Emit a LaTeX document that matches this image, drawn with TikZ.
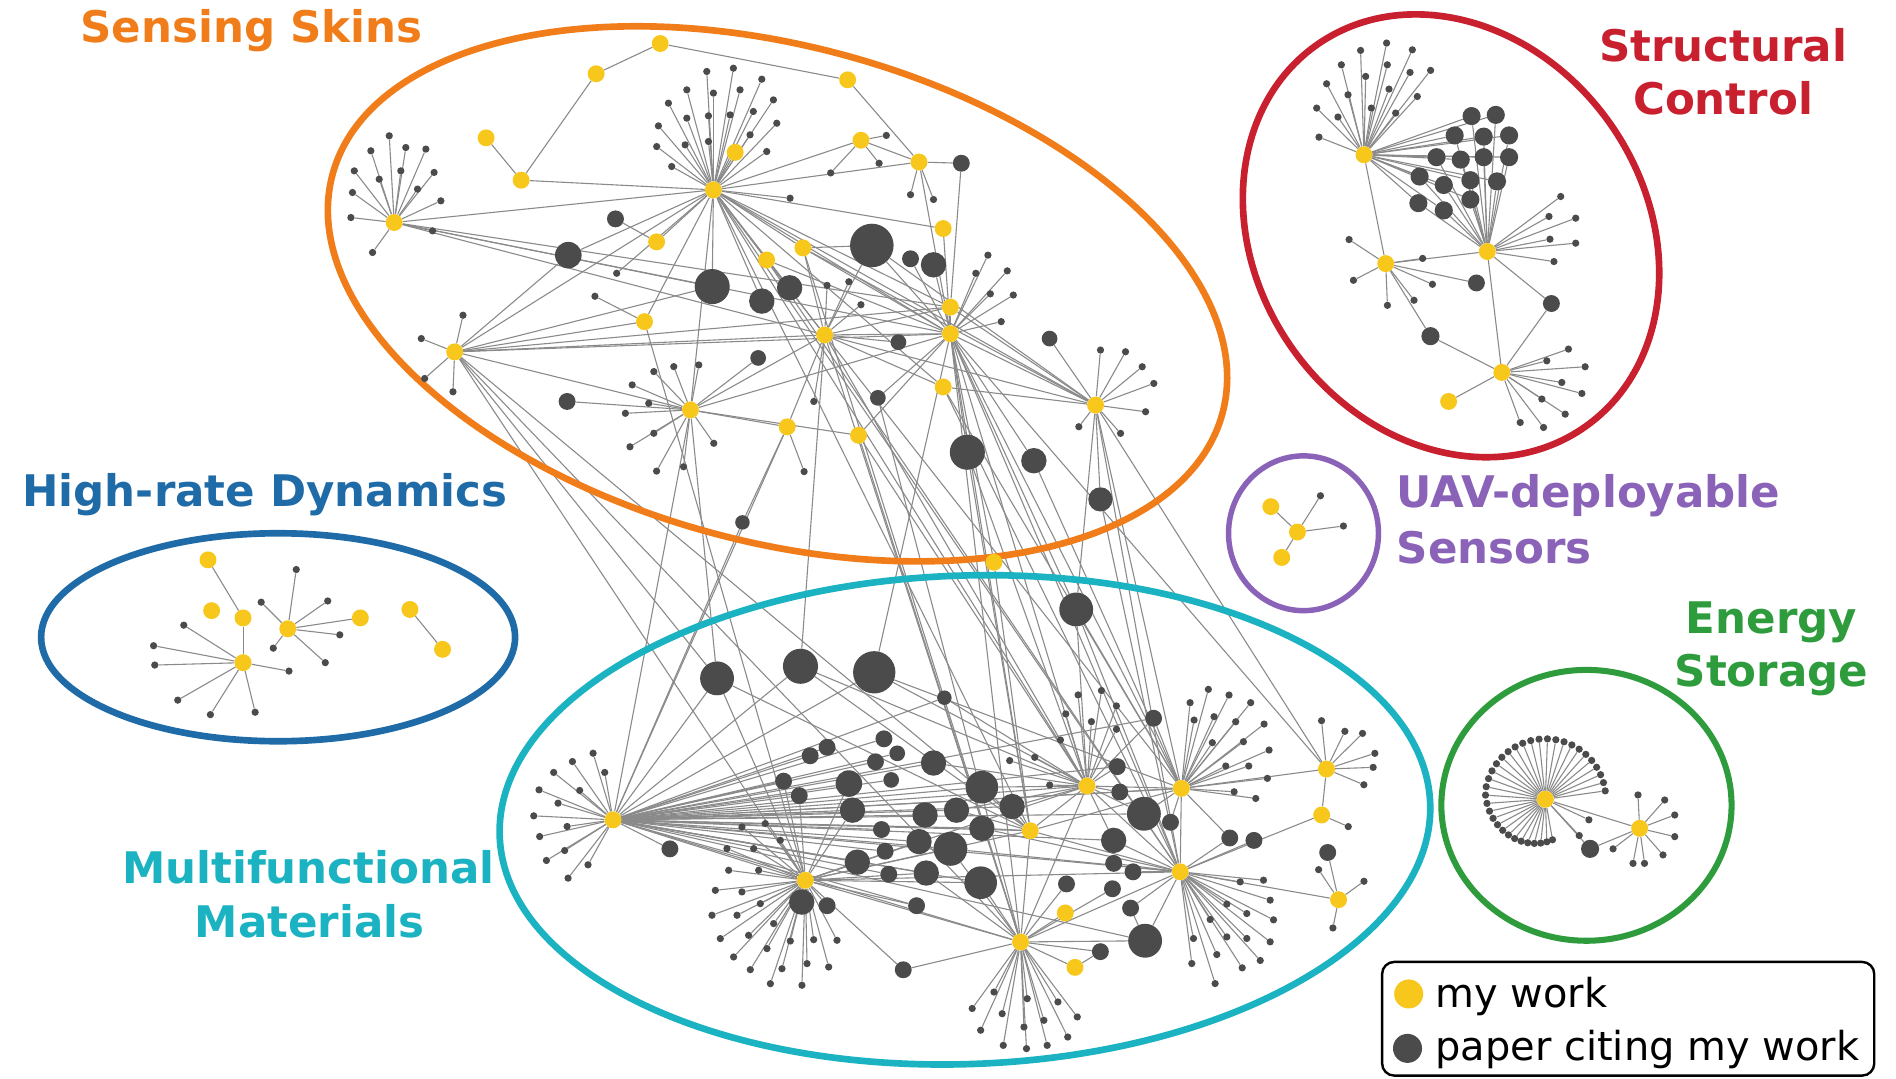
\documentclass[tikz,border=0pt]{standalone}
\usepackage{fontspec}
\setmainfont{DejaVu Sans}
\usetikzlibrary{calc}
\definecolor{cOr}{RGB}{240,125,25}
\definecolor{cRed}{RGB}{200,32,47}
\definecolor{cBlue}{RGB}{31,107,168}
\definecolor{cPur}{RGB}{138,98,184}
\definecolor{cGrn}{RGB}{46,156,60}
\definecolor{cTeal}{RGB}{27,179,194}
\definecolor{cYel}{RGB}{247,200,27}
\definecolor{cDark}{RGB}{75,75,75}
\definecolor{cEdge}{RGB}{138,138,138}
\pgfdeclarelayer{bg}\pgfdeclarelayer{edges}\pgfdeclarelayer{rings}
\pgfsetlayers{bg,edges,rings,main}
\newcommand\lblfont{\fontsize{36}{42}\selectfont\bfseries}
\gdef\fanpairs{e1/e2}
\newcommand\leaffan[2]{\foreach \dx/\dy [count=\i] in {#2} {\node[lf] (#1l\i) at ($(#1)+(\dx,\dy)$) {};
  \xdef\fanpairs{\fanpairs,#1/#1l\i}}}
\newcommand\links[1]{\foreach \a/\b in {#1} {\draw[ed] (\a) -- (\b);}}
\begin{document}
\begin{tikzpicture}[x=1pt,y=-1pt,
  my/.style={circle,fill=cYel,inner sep=0pt,minimum size=14pt},
  cite/.style={circle,fill=cDark,inner sep=0pt,minimum size=#1},
  lf/.style={circle,fill=cDark,inner sep=0pt,minimum size=6pt},
  ed/.style={draw=cEdge,line width=0.9pt},
  ring/.style={line width=5.5pt}]
\useasboundingbox (0,0) rectangle (1568,892);
\begin{pgfonlayer}{bg}\fill[white] (0,0) rectangle (1568,892);\end{pgfonlayer}

% ---------- yellow nodes (my work)
\foreach \n/\x/\y in {sy1/546/36, sy2/493/61, sy3/701/66, sy4/402/114, sy5/431/149, sy6/608/126,
  sy7/712/116, sy8/760/134, sy9/543/200, sy10/780/189, sy11/634/215, sy12/664/205, sy13/533/266,
  sy14/786/254, sy15/780/320, sy16/651/353, sy17/710/360, sy18/822/465,
  h1/590/157, h2/326/184, h3/682/277, h4/786/276, h5/376/291, h6/571/339, h7/906/335,
  m1/507/678, m2/666/728, m3/844/779, m4/899/650, m5/977/652, m6/976/721, m7/852/687,
  m8/1097/636, m9/1093/674, m10/1107/744, my1/881/755, my2/889/800,
  sc1/1128/128, sc2/1230/208, sc3/1146/218, sc4/1242/308, scy/1198/332,
  hy1/172/463, hy2/175/505, hy3/201/511, hr1/201/548, hr2/238/520, hy4/298/511, hy5/339/504, hy6/366/537,
  uh/1073/440, uy1/1051/419, uy2/1060/461, e1/1278/661, e2/1356/685}
  {\node[my] (\n) at (\x,\y) {};}

% ---------- dark nodes (citing papers)
\foreach \n/\x/\y/\s in {sd1/721/203/36, sd2/589/237/29, sd3/470/211/22, sd4/653/238/21, sd5/630/249/21,
  sd6/772/219/21, sd7/753/214/14, sd8/795/135/14, sd9/509/181/14, sd10/743/283/13, sd11/627/296/13,
  sd12/469/332/14, sd13/726/329/13, sd14/868/280/13, sd15/800/374/29, sd16/855/381/21, sd17/910/413/20,
  sd18/614/432/12, sx1/510/226/6, sx2/492/245/6,
  bd1/593/561/28, bd2/662/551/29, bd3/723/556/35, bd4/890/504/28,
  e3/1315/702/15, kd1/1221/234/14, kd2/1283/251/14, kd3/1183/278/15,
  c1/648/646/14, c2/661/658/14, c3/670/625/14, c4/684/618/14, c5/702/648/22, c6/705/670/21,
  c7/724/630/14, c8/731/611/14, c9/742/623/13, c10/737/645/13, c11/729/686/14, c12/732/704/14,
  c13/735/723/14, c14/709/713/21, c15/772/631/21, c16/765/674/21, c17/791/670/21, c18/760/696/21,
  c19/786/702/28, c20/766/722/21, c21/812/651/27, c22/812/685/21, c23/811/730/27, c24/758/749/14,
  c25/837/667/21, c26/924/634/14, c27/926/655/14, c28/946/673/28, c29/968/680/14, c30/921/695/21,
  c31/921/714/14, c32/937/721/14, c33/920/735/14, c34/882/731/14, c35/935/751/14, c36/947/778/28,
  c37/910/787/14, c38/1017/693/14, c39/1037/695/14, c40/1098/705/14, c41/954/594/14, c42/663/746/21,
  c43/684/749/14, c44/747/802/14, c45/554/702/14, c46/781/577/12,
  k1/1217/96/15, k2/1237/95/15, k3/1203/112/15, k4/1227/113/15, k5/1248/112/15, k6/1188/130/15,
  k7/1208/132/15, k8/1227/130/15, k9/1248/130/15, k10/1174/146/15, k11/1194/153/15, k12/1216/149/15,
  k13/1238/150/15, k14/1173/168/15, k15/1194/174/15, k16/1216/165/15}
  {\node[cite=\s pt] (\n) at (\x,\y) {};}

% ---------- leaf fans
\leaffan{h1}{-5.5/-97.9, 16.5/-100.6, 40/-91.5, -22/-82.7, 0/-80, 22/-82.7, 49.6/-74.4, -37.2/-71.7,
  -22/-59.3, -4.1/-61.2, 13.8/-62, 33/-64.8, 52.4/-55.1, -45.5/-52.9, -23.4/-37.2, -4.1/-40, 30.3/-45.5,
  44.1/-31.7, -46.9/-35.8, -34.5/-19.3, 63.4/6.9}
\leaffan{h2}{-4.1/-71.7, -19.3/-59.3, 9.6/-62, 26.2/-60.7, -33/-42.7, -12.4/-35.8, 5.5/-42.7, 33/-41.4,
  -34.5/-24.8, 19.3/-27.6, 38.6/-17.9, -35.8/-4.1, -17.9/24.8, 31.7/6.9}
\leaffan{h5}{6.9/-30.3, -27.6/-11, -24.8/22, -1.4/33}
\leaffan{h6}{-30.3/-31.7, -13.8/-35.8, 6.9/-37.2, -48.2/-20.7, -34.5/-5.5, -53.8/2.8, -50/30.5,
  -30.3/19.3, 19.3/27.6, -28/50.6, -5.7/47}
\leaffan{h3}{2/-41, 20/-44, 30/-25, -9/55}
\leaffan{h4}{31/-65, 47/-52, 21/-50, 33/-33, 52/-32, 42/-10}
\leaffan{h7}{4.1/-45.5, 24.8/-44.1, 38.6/-31.7, 48.2/-17.9, 41.4/5.5, 20.7/23.4, -13.8/17.9}
\leaffan{sy7}{21/-4, 15/19, -25/27}
\leaffan{sy8}{-7/27, 12/31}
\leaffan{sy16}{14/37}
\leaffan{m1}{-16.5/-55.1, -33.6/-48.2, -6.9/-39.2, -49.1/-39.2, -27.6/-24.3, -61.2/-24.8, -45.5/-13.8,
  -65.6/-3.3, -38/5.5, -60.7/13.8, -40/25.4, -55.1/33.6, -20.7/37.2, -37.2/48.2}
\leaffan{m2}{-74.4/8.3, -52.4/9.6, -64.8/-26.2, -42.7/-26.2, -63.4/-8.3, -38.6/-8.3, -77.2/28.9,
  -56.5/28.9, -37.2/19.3, -70.3/48.2, -46.9/45.5, -26.2/35.8, -59.3/63.4, -31.7/56.5, -45.5/73.9,
  -19.3/73.1, -28.9/85.5, -2.8/86.8, -12.4/50.2, 6.9/49.1, 1.4/68.9, 19.3/71.7, 26.2/49.6, -20.7/-33.1,
  -33.1/-46.9, -52.4/-44.1}
\leaffan{m3}{-22/41.4, -15.2/59.3, 5.5/46.9, 2.8/70.3, -14.3/85.5, 4.9/88.2, 22/85.5, 19.3/64.8,
  30.9/49.6, 39/78.6, 46.9/62, -33/73, -40/55}
\leaffan{m4}{-7.4/-75.3, 11.9/-78.9, 24.3/-66.2, -17.6/-59.6, 3.6/-53.2, 24.3/-46.9, -64/-21,
  -43.3/-23.7, -30.9/-0.8, -22/-38}
\leaffan{m5}{7.2/-70.9, 22.3/-81.9, 39.4/-77.2, 57.3/-70.9, 10.5/-56.5, 27/-59.3, 44.9/-55.1,
  68.4/-53.2, 25.6/-37.8, 51.3/-38.6, 72.5/-31.7, 36.7/-18.5, 55.7/-18.5, 71.1/-8.3, 43.6/2.8, 61.5/8.3}
\leaffan{m6}{49.6/8.3, 68.9/6.9, 74.4/23.4, 38.6/26.7, 55.1/34.5, 77.2/39.7, 24.8/39.4, 38.6/53.8,
  55.1/55.1, 74.4/57.9, 11/55.1, 30.3/68.4, 51.3/79.4, 66.2/73.3, 9.6/75.8, 28.9/92.4}
\leaffan{m8}{-4.1/-40, 15.2/-31.2, 29.8/-29.5, 40/-13, 38.6/-1.4, 30.9/13}
\leaffan{m9}{22/9.6}
\leaffan{m10}{-16.5/-24.8, 21/-15.2, -4.7/23.4}
\leaffan{sc1}{18.7/-92.4, -2.8/-86.3, 40/-86.8, -18.7/-74.4, 19.3/-74.4, 1.4/-64.8, 38.1/-68.1,
  55.1/-69.8, -30.9/-58.7, -13.2/-49.6, 20.7/-54.3, 44.1/-48.2, -39.1/-38.6, -21.5/-31.2, 6.1/-38.6,
  26.2/-34.5, -37.2/-14.6}
\leaffan{sc2}{60.7/-45.5, 51/-29, 73.1/-27.6, 51.8/-10.2, 73.1/-6.9, 55.1/8.3}
\leaffan{sc3}{-30.3/-19.9, -26.7/13.8, 1.4/34.5, 23.4/30.3, 38.6/17.1, 30.5/-4.3}
\leaffan{sc4}{55.1/-19.3, 37.2/-9.6, 68.9/-4.7, 49.6/8.3, 66.2/17.4, 33.1/22, 52.4/34.5, 15.2/41.4, 34.5/45.5}
\leaffan{hr1}{-49/-31, -74/-14, -73/2, 38/7, -54/31, -27/43, 10/41}
\leaffan{hr2}{7/-49, -22/-22, 33/-23, 43/5, -12/16, 31/28}
\leaffan{uh}{19/-30, 38/-5}
\leaffan{e2}{-1.4/-27.6, 20.7/-23.4, 29/-11, 29/6.9, 19.3/22, 4/29, -5.5/29, -22/17}
\leaffan{e1}{36/17, 28/30}
\foreach \ang in {80,88,...,352} {
  \pgfmathsetmacro\rr{min(50,34+(\ang-80)*0.15)}
  \node[lf] (e1s\ang) at ($(e1)+(\ang:\rr)$) {};
  \xdef\fanpairs{\fanpairs,e1/e1s\ang}}

% ---------- connectors (one layer block)
\begin{pgfonlayer}{edges}
\foreach \a/\b in \fanpairs {\draw[ed] (\a) -- (\b);}
\links{sy1/sy2, sy2/sy5, sy5/sy4, sy5/h1, sy1/sy3, sy3/sy8, sy7/sy8, sy7/h1, sy8/sd8, sd8/sy14, sy6/h1,
  sd9/sy9, h1/h2, h1/sy9, h1/sd3, h1/sd2, h1/sy11, h1/sy12, h1/h3, h1/h4, h1/h7, h1/sy13, h1/h5, h1/h6,
  h1/sy14, h1/sy10, h1/sd4, h1/sd5, h1/sy15, h1/sy8, h2/h4, h2/h3, h2/sd2, h2/sy14, h5/sd3, h5/sy13,
  h5/h3, h5/h4, h5/sy14, h5/sd2, h5/h6, h6/sd12, h6/h3, h6/h4, h6/sy16, h6/sd11, h6/sy17, h3/h4, h3/h7,
  h3/sy11, h3/sy12, h3/sd10, h3/sy15, h3/sd1, h3/sy14, h4/h7, h4/sy10, h4/sy14, h4/sd6, h4/sd7, h4/sd1,
  h4/sy8, h4/sd13, h4/sy12, h4/sy11, h7/sd14, h7/sy15, h7/sy14, h7/sy12, h7/sd1, sd1/sy12, sy17/h4,
  sy16/h3, sd15/h4, sd16/h4, sd17/h7, sd18/sy16, sx1/h1, sx2/sy13}
\links{h5/m2, h5/m3, h5/bd1, h5/m7, h1/m7, h1/m4, h6/bd1, h6/m1, h3/m4, h3/m5, h3/m3, h4/m4, h4/m5,
  h4/m6, h4/m7, h4/m3, h4/bd4, h7/m5, h7/m6, h7/m8, h7/bd4, sy16/m1, sy17/m4, sy17/m3, sy15/m5, sy15/m6,
  sd15/m4, sd15/m7, sd16/m5, sd17/m6, sy18/h4, sy18/m7, sd18/m1, bd1/m1, bd1/m2, bd1/m7, bd2/m1, bd2/m4,
  bd2/m7, bd2/h3, bd3/m1, bd3/m4, bd3/m5, bd3/h4, bd4/m4, bd4/m5, bd4/m6, sy13/m2, sy11/m6, sy12/m3,
  sd13/m3, h1/m6, h4/m8}
\foreach \k in {1,...,25} {\draw[ed] (m1) -- (c\k);}
\foreach \k in {1,...,16} {\draw[ed] (sc1) -- (k\k); \draw[ed] (sc2) -- (k\k);}
\links{m1/c26, m1/c27, m1/c28, m1/c30, m1/c36, m1/c41, m1/c45, m1/m2, m1/m3, m1/m4, m1/m5, m1/m6,
  m1/m7, m1/c46, m2/c5, m2/c6, m2/c14, m2/c18, m2/c19, m2/c20, m2/c23, m2/c42, m2/c43, m2/c44, m2/c24,
  m2/m3, m2/m7, m2/m4, m2/m6, m2/c1, m2/c2, m4/c15, m4/c21, m4/c25, m4/c26, m4/c27, m4/c28, m4/c17,
  m4/m5, m4/m7, m4/m6, m4/c41, m4/m3, m4/c46, m4/c30, m5/c28, m5/c29, m5/c41, m5/m6, m5/m8, m5/m7,
  m5/c38, m5/c27, m6/m3, m6/m7, m6/m10, m6/m9, m6/c38, m6/c39, m6/c30, m6/c31, m6/c32, m6/c35, m6/c36,
  m6/c22, m6/c19, m3/my1, m3/my2, m3/m7, m3/c37, m3/c36, m3/c23, m3/c33, m3/c34, m3/c44, m3/c20,
  m3/c19, m7/c25, m7/c21, m7/c22, m7/c17, m8/m9, c40/m10, my2/c37, c36/c35}
\links{sc1/sc3, sc3/sc2, sc3/kd1, sc3/kd3, kd3/sc4, sc2/sc4, sc2/kd2, kd2/sc4, sc4/scy,
  hy1/hy3, hy3/hr1, hr2/hy4, hy5/hy6, uh/uy1, uh/uy2, e1/e3, e3/e2}
\end{pgfonlayer}

% ---------- topic rings
\begin{pgfonlayer}{rings}
\draw[ring,cOr,rotate around={-15:(643,243)}] (643,243) ellipse [x radius=381, y radius=205];
\draw[ring,cRed,rotate around={-55:(1200,195)}] (1200,195) ellipse [x radius=193, y radius=161];
\draw[ring,cBlue] (230,527) ellipse [x radius=196, y radius=86];
\draw[ring,cTeal,rotate around={2:(798,678)}] (798,678) ellipse [x radius=385, y radius=202];
\draw[ring,cPur,line width=4.5pt] (1078,441) ellipse [x radius=62, y radius=64];
\draw[ring,cGrn,line width=5pt] (1312,666) ellipse [x radius=120, y radius=112];
\end{pgfonlayer}

% ---------- labels
\node[anchor=base,text=cOr,font=\lblfont,inner sep=0pt] (tSS) at (208,35) {Sensing Skins};
\node[anchor=base,text=cRed,font=\lblfont,inner sep=0pt] (tSC1) at (1425,51) {Structural};
\node[anchor=base,text=cRed,font=\lblfont,inner sep=0pt] (tSC2) at (1425,95) {Control};
\node[anchor=base,text=cBlue,font=\lblfont,inner sep=0pt] (tHR) at (219,419) {High-rate Dynamics};
\node[anchor=base west,text=cPur,font=\lblfont,inner sep=0pt] (tUAV1) at (1155,420) {UAV-deployable};
\node[anchor=base west,text=cPur,font=\lblfont,inner sep=0pt] (tUAV2) at (1155,466) {Sensors};
\node[anchor=base,text=cGrn,font=\lblfont,inner sep=0pt] (tES1) at (1465,524) {Energy};
\node[anchor=base,text=cGrn,font=\lblfont,inner sep=0pt] (tES2) at (1465,568) {Storage};
\node[anchor=base,text=cTeal,font=\lblfont,inner sep=0pt] (tMM1) at (255,731) {Multifunctional};
\node[anchor=base,text=cTeal,font=\lblfont,inner sep=0pt] (tMM2) at (256,775) {Materials};

% ---------- legend
\node[draw=black,line width=2pt,rounded corners=10pt,minimum width=407pt,minimum height=94pt,inner sep=0pt]
  (legend) at (1346.5,842.5) {};
\node[circle,fill=cYel,inner sep=0pt,minimum size=24pt] (lg1) at (1165,822) {};
\node[circle,fill=cDark,inner sep=0pt,minimum size=24pt] (lg2) at (1164,867) {};
\node[anchor=base west,font=\fontsize{33}{38}\selectfont,inner sep=0pt] (lt1) at (1187,833) {my work};
\node[anchor=base west,font=\fontsize{33}{38}\selectfont,inner sep=0pt] (lt2) at (1187,877) {paper citing my work};
\end{tikzpicture}
\end{document}
